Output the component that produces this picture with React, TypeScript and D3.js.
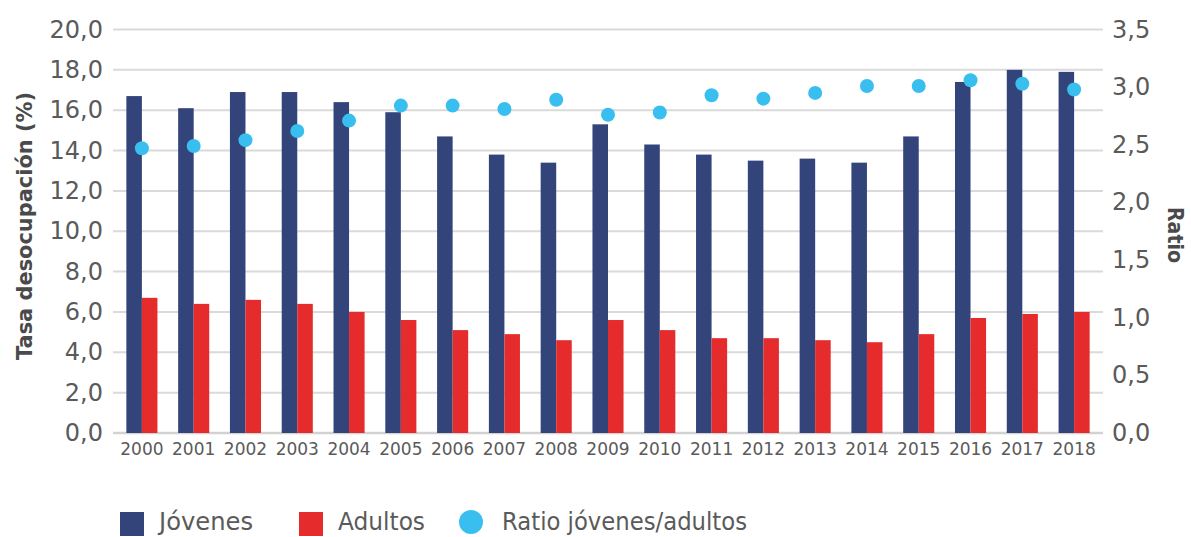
import React from 'react';
import * as d3 from 'd3';

const years = ['2000', '2001', '2002', '2003', '2004', '2005', '2006', '2007', '2008', '2009',
  '2010', '2011', '2012', '2013', '2014', '2015', '2016', '2017', '2018'];
const jovenes = [16.7, 16.1, 16.9, 16.9, 16.4, 15.9, 14.7, 13.8, 13.4, 15.3, 14.3, 13.8, 13.5, 13.6, 13.4, 14.7, 17.4, 18.0, 17.9];
const adultos = [6.7, 6.4, 6.6, 6.4, 6.0, 5.6, 5.1, 4.9, 4.6, 5.6, 5.1, 4.7, 4.7, 4.6, 4.5, 4.9, 5.7, 5.9, 6.0];
const ratio = [2.47, 2.49, 2.54, 2.62, 2.71, 2.84, 2.84, 2.81, 2.89, 2.76, 2.78, 2.93, 2.90, 2.95, 3.01, 3.01, 3.06, 3.03, 2.98];
const leftTicks = [0, 2, 4, 6, 8, 10, 12, 14, 16, 18, 20];
const rightTicks = [0, 0.5, 1, 1.5, 2, 2.5, 3, 3.5];
const legendItems = [
  { label: 'Jóvenes', color: '#33447b', shape: 'square' },
  { label: 'Adultos', color: '#e52b2b', shape: 'square' },
  { label: 'Ratio jóvenes/adultos', color: '#38bff0', shape: 'circle' },
];

const W = 1191;
const H = 537;
const FONT = "'DejaVu Sans', sans-serif";
const NAVY = '#33447b';
const RED = '#e52b2b';
const CYAN = '#38bff0';
const TEXT = '#5a5a5a';

const fmt = (v: number) => v.toFixed(1).replace('.', ',');

export default function App() {
  const plot = { left: 113, right: 1103, top: 29.5, bottom: 433 };

  const x = d3.scaleBand<string>()
    .domain(years)
    .range([116, 1100])
    .paddingInner(0.4)
    .paddingOuter(0.2);

  const sub = d3.scaleBand<string>()
    .domain(['j', 'a'])
    .range([0, x.bandwidth()]);

  const yLeft = d3.scaleLinear().domain([0, 20]).range([plot.bottom, plot.top]);
  const yRight = d3.scaleLinear().domain([0, 3.5]).range([plot.bottom, plot.top]);

  // legend layout
  const legendX = [120, 299, 459];
  const legendW = [94, 87, 245];

  return (
    <svg width={W} height={H} style={{ position: 'absolute', left: 0, top: 0, background: '#fff' }}
      fontFamily={FONT}>
      {/* gridlines */}
      {leftTicks.map(t => (
        <line key={t} x1={plot.left} x2={plot.right} y1={yLeft(t)} y2={yLeft(t)}
          stroke={t === 0 ? '#d2d2d2' : '#dadada'} strokeWidth={t === 0 ? 2.5 : 2} />
      ))}

      {/* left tick labels */}
      {leftTicks.map(t => (
        <text key={t} x={103} y={yLeft(t)} textAnchor="end" dominantBaseline="central"
          fontSize={24} fill={TEXT}>{fmt(t)}</text>
      ))}

      {/* right tick labels */}
      {rightTicks.map(t => (
        <text key={t} x={1112} y={yRight(t)} textAnchor="start" dominantBaseline="central"
          fontSize={24} fill={TEXT}>{fmt(t)}</text>
      ))}

      {/* bars */}
      {years.map((yr, i) => (
        <g key={yr} transform={`translate(${x(yr)},0)`}>
          <rect x={sub('j')} y={yLeft(jovenes[i])} width={sub.bandwidth()}
            height={yLeft(0) - yLeft(jovenes[i])} fill={NAVY} />
          <rect x={sub('a')} y={yLeft(adultos[i])} width={sub.bandwidth()}
            height={yLeft(0) - yLeft(adultos[i])} fill={RED} />
        </g>
      ))}

      {/* ratio dots */}
      {years.map((yr, i) => (
        <circle key={yr} cx={(x(yr) ?? 0) + x.bandwidth() / 2} cy={yRight(ratio[i])} r={7} fill={CYAN} />
      ))}

      {/* x labels */}
      {years.map(yr => (
        <text key={yr} x={(x(yr) ?? 0) + x.bandwidth() / 2} y={455} textAnchor="middle"
          fontSize={17} fill={TEXT}>{yr}</text>
      ))}

      {/* axis titles */}
      <text transform={`translate(32,${226}) rotate(-90)`} textAnchor="middle" fontSize={22}
        fontWeight="bold" fill="#4a4a4a" textLength={268} lengthAdjust="spacingAndGlyphs">
        Tasa desocupación (%)
      </text>
      <text transform={`translate(1168,${235}) rotate(90)`} textAnchor="middle" fontSize={21}
        fontWeight="bold" fill="#4a4a4a" textLength={56} lengthAdjust="spacingAndGlyphs">
        Ratio
      </text>

      {/* legend */}
      {legendItems.map((item, i) => (
        <g key={item.label} transform={`translate(${legendX[i]},0)`}>
          {item.shape === 'square'
            ? <rect x={0} y={512} width={24} height={24} fill={item.color} />
            : <circle cx={12} cy={522} r={12} fill={item.color} />}
          <text x={i === 2 ? 43 : 39} y={530} fontSize={24} fill={TEXT}
            textLength={legendW[i]} lengthAdjust="spacingAndGlyphs">{item.label}</text>
        </g>
      ))}
    </svg>
  );
}
